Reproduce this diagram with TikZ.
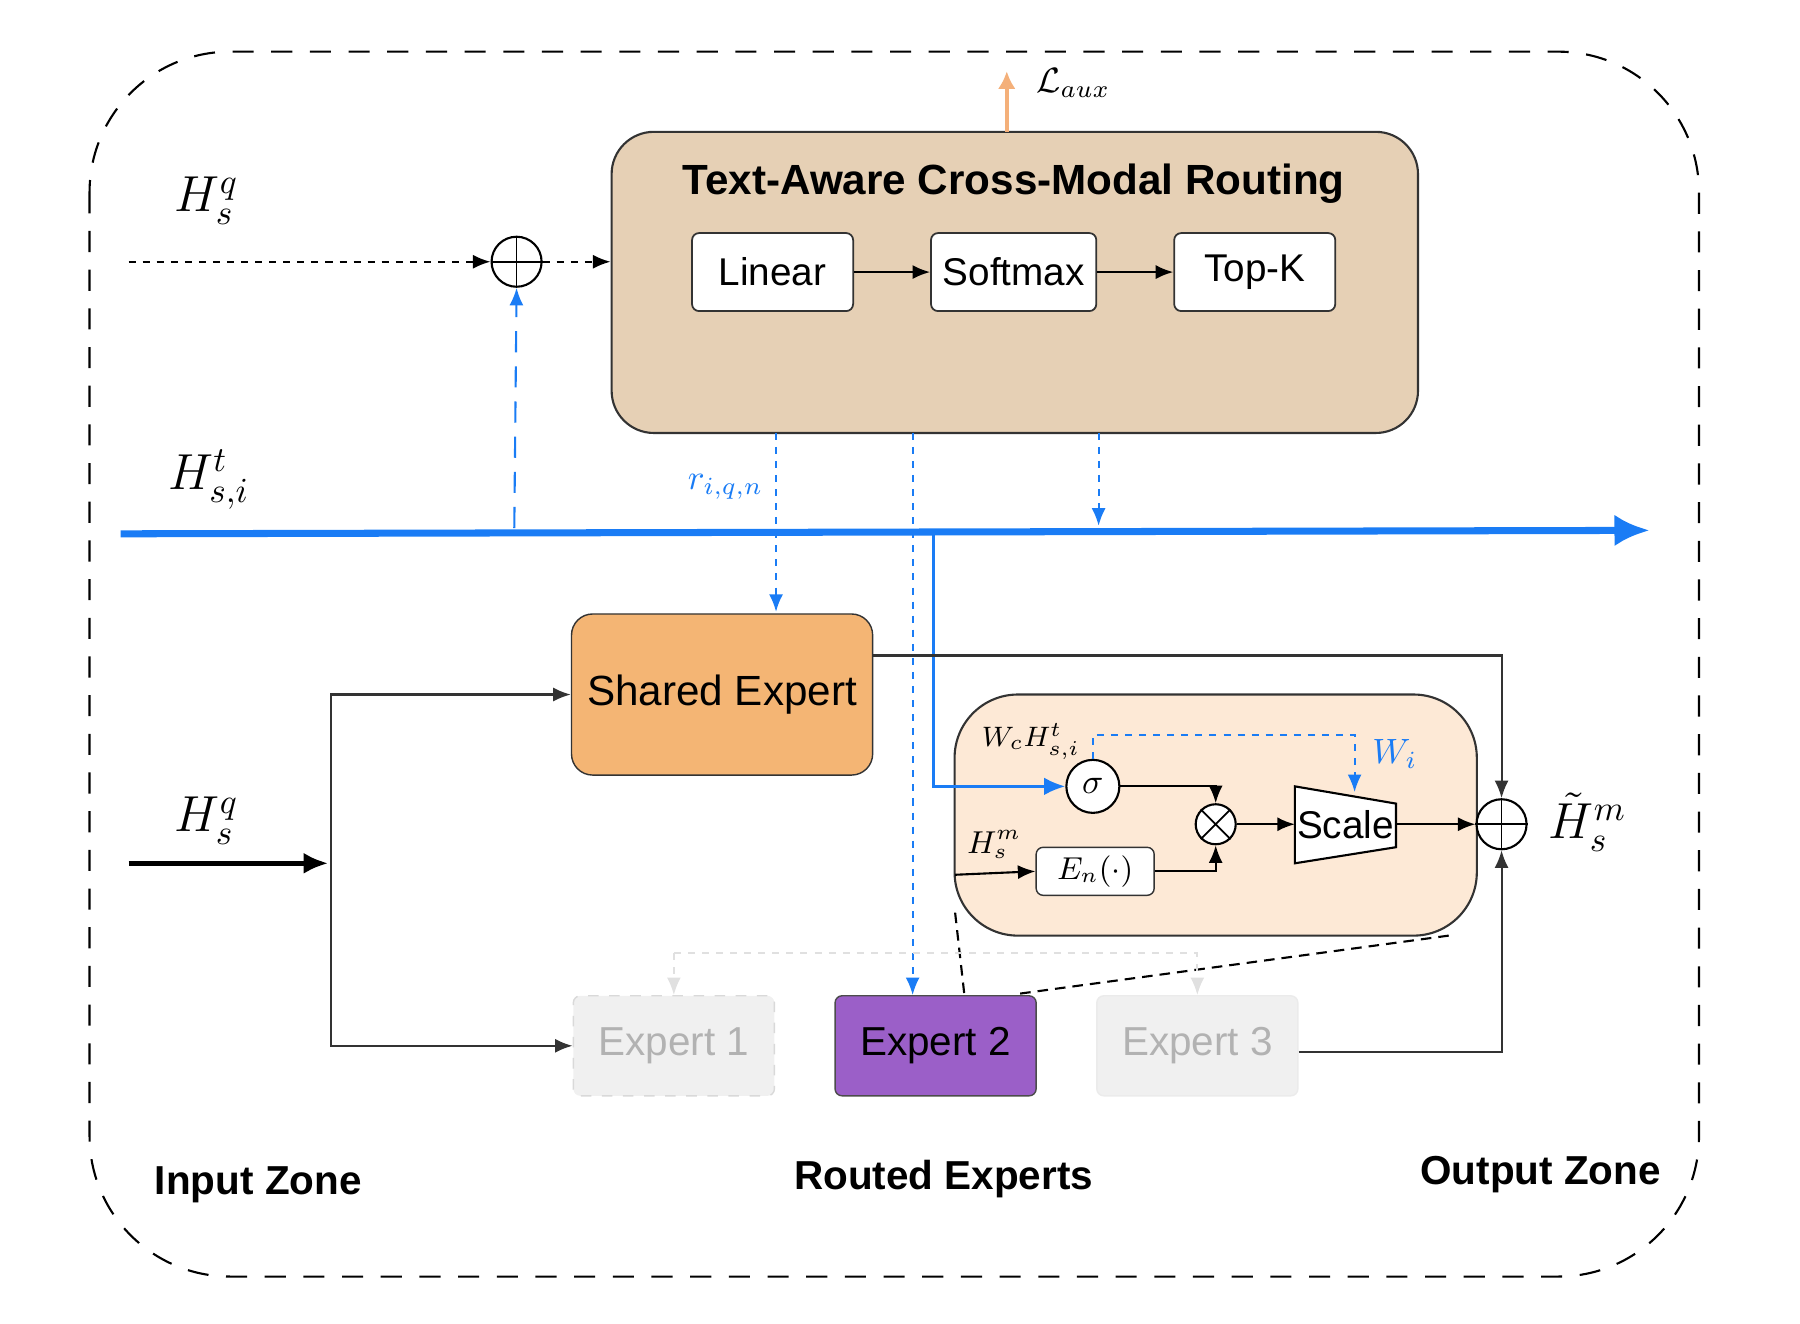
\documentclass[tikz,border=0pt]{standalone}
\usepackage{fontspec}
\setmainfont{Liberation Sans}
\usepackage{amsmath}
\usetikzlibrary{arrows.meta,shapes.geometric}
\definecolor{route}{HTML}{E6D0B5}
\definecolor{shared}{HTML}{F4B574}
\definecolor{detail}{HTML}{FDE9D6}
\definecolor{purp}{HTML}{9B5FC8}
\definecolor{blu}{HTML}{1A7CF5}
\definecolor{faint}{HTML}{F0F0F0}
\definecolor{laux}{HTML}{F4B07A}
\begin{document}
\begin{tikzpicture}[x=0.01148cm,y=-0.01148cm,
  box/.style={draw=black!80,rounded corners=2pt,fill=white,minimum width=1.61cm,minimum height=0.78cm,font=\fontsize{11}{13}\selectfont,line width=0.5pt},
  arr/.style={-{Latex[length=5pt,width=4pt]},line width=0.6pt},
  bdot/.style={blu,dashed,dash pattern=on 2pt off 2pt,-{Latex[length=5pt,width=4pt]},line width=0.6pt},
  ex/.style={minimum width=2.01cm,minimum height=1.0cm,rounded corners=2pt,font=\fontsize{11.5}{14}\selectfont},
  circ/.style={circle,draw,fill=white,inner sep=0pt,line width=0.6pt},
  zone/.style={font=\bfseries\fontsize{11.5}{14}\selectfont}]
\useasboundingbox (0,0) rectangle (1568,1152.5);
\draw[dashed,dash pattern=on 6pt off 5pt,line width=0.6pt,rounded corners=40pt] (78,45) rectangle (1480,1112);
% routing
\node[draw=black!80,fill=route,rounded corners=12pt,minimum width=8.06cm,minimum height=3.01cm,line width=0.6pt] (R) at (884,246) {};
\node[font=\bfseries\fontsize{12}{14}\selectfont] (Rt) at (883,160) {Text-Aware Cross-Modal Routing};
\node[box] (lin) at (673,237) {Linear};
\node[box] (soft) at (883,237) {Softmax};
\node[box] (topk) at (1093,237) {Top-K};
\draw[arr] (lin) -- (soft);
\draw[arr] (soft) -- (topk);
\coordinate (la) at (877,62);
\draw[laux,line width=1.2pt,-{Latex[length=5pt,width=5pt]}] (877,115) -- (la);
\node[font=\normalsize] (lal) at (935,72) {$\mathcal{L}_{aux}$};
% input top
\node[font=\Large] (hq1) at (180,175) {$H_s^q$};
\node[circ,minimum size=0.5cm] (op1) at (450,228) {};
\draw[line width=0.5pt] (op1.north)--(op1.south) (op1.west)--(op1.east);
\coordinate (q1) at (112,228);
\draw[dashed,dash pattern=on 2pt off 2pt,arr] (q1) -- (op1.west);
\draw[dashed,dash pattern=on 2pt off 2pt,arr] (op1.east) -- (R.west|-op1);
\node[font=\Large] (ht) at (182,418) {$H_{s,i}^t$};
\coordinate (bl0) at (105,465);
\coordinate (bl1) at (1437,462);
\draw[blu,line width=2pt,-{Latex[length=10pt,width=9pt]}] (bl0) -- (bl1);
\draw[blu,dashed,dash pattern=on 6pt off 4pt,line width=0.6pt,-{Latex[length=5pt,width=4pt]}] (448,460) -- (op1.south);
% experts
\node[ex,draw=black!80,fill=shared,minimum width=3.01cm,minimum height=1.61cm,rounded corners=6pt,font=\fontsize{12}{14}\selectfont] (SE) at (629,605) {Shared Expert};
\draw[bdot] (676,377) -- (676,533) node[pos=0.3,left,font=\normalsize] (rl) {$r_{i,q,n}$};
\node[ex,draw=black!15,dashed,fill=faint,text=black!30] (E1) at (587,911) {Expert 1};
\node[ex,draw=black!70,fill=purp] (E2) at (815,911) {Expert 2};
\node[ex,draw=black!8,fill=faint,text=black!30] (E3) at (1043,911) {Expert 3};
\draw[bdot] (795,377) -- (E2.north-|795,0);
\draw[bdot] (957,377) -- (957,458);
% detail box
\node[draw=black!80,fill=detail,rounded corners=18pt,minimum width=5.22cm,minimum height=2.41cm,line width=0.6pt] (D) at (1059,710) {};
\node[circ,minimum size=0.53cm] (sig) at (952,685) {$\sigma$};
\node[circ,minimum size=0.4cm] (ot) at (1059,718) {};
\draw[line width=0.5pt] (ot.north east)--(ot.south west) (ot.north west)--(ot.south east);
\draw[fill=white,line width=0.6pt] (1128,685) -- (1216,700) -- (1216,738) -- (1128,752) -- cycle;
\node[font=\fontsize{11}{13}\selectfont,inner sep=0pt] (sc) at (1172,718) {Scale};
\coordinate (scl) at (1128,718);
\coordinate (scr) at (1216,718);
\node[draw=black!80,fill=white,rounded corners=2pt,minimum width=1.18cm,minimum height=0.48cm,inner sep=0pt,font=\small] (En) at (954,759) {$E_n(\cdot)$};
\node[circ,minimum size=0.5cm] (op2) at (1308,718) {};
\draw[line width=0.5pt] (op2.north)--(op2.south) (op2.west)--(op2.east);
\node[font=\footnotesize] (wc) at (898,646) {$W_cH_{s,i}^t$};
\node[font=\normalsize,text=blu] (wi) at (1215,657) {$W_i$};
\node[font=\small] (hm) at (866,736) {$H_s^m$};
\node[font=\Large] (hout) at (1383,716) {$\tilde{H}_s^m$};
\draw[blu,line width=0.8pt,-{Latex[length=6pt,width=5pt]}] (813,465) |- (sig.west);
\draw[blu,dashed,dash pattern=on 2pt off 2pt,line width=0.6pt,-{Latex[length=5pt,width=4pt]}] (sig.north) -- (952,640) -| (1180,690);
\draw[arr] (sig.east) -| (ot.north);
\draw[arr] (En.east) -| (ot.south);
\coordinate (hmin) at (832,762);
\draw[arr] (hmin) -- (En.west);
\draw[arr] (ot.east) -- (scl);
\draw[arr] (scr) -- (op2.west);
\draw[line width=0.6pt,black!80,-{Latex[length=5pt,width=4pt]}] (SE.east|-0,571) -| (op2.north);
\draw[line width=0.6pt,black!80,-{Latex[length=5pt,width=4pt]}] (E3.east|-0,916) -| (op2.south);
% dashed zoom lines
\draw[dashed,dash pattern=on 3pt off 2pt,line width=0.6pt] (832,795) -- (840,866);
\draw[dashed,dash pattern=on 3pt off 2pt,line width=0.6pt] (1262,815) -- (885,866);
\draw[black!12,dashed,dash pattern=on 2pt off 2pt,line width=0.6pt,-{Latex[length=5pt,width=4pt]}] (587,830) -- (E1.north);
\draw[black!12,dashed,dash pattern=on 2pt off 2pt,line width=0.6pt,-{Latex[length=5pt,width=4pt]}] (587,830) -| (E3.north);
% lower input
\node[font=\Large] (hq2) at (180,715) {$H_s^q$};
\coordinate (q2) at (112,752);
\coordinate (sp) at (286,752);
\draw[line width=1.5pt,-{Latex[length=7pt,width=6pt]}] (q2) -- (sp);
\draw[line width=0.6pt,black!80,-{Latex[length=5pt,width=4pt]}] (288,752) |- (SE.west);
\draw[line width=0.6pt,black!80,-{Latex[length=5pt,width=4pt]}] (288,752) |- (E1.west);
% zones
\node[zone] (iz) at (225,1032) {Input Zone};
\node[zone] (rz) at (822,1027) {Routed Experts};
\node[zone] (oz) at (1342,1023) {Output Zone};
\end{tikzpicture}
\end{document}
